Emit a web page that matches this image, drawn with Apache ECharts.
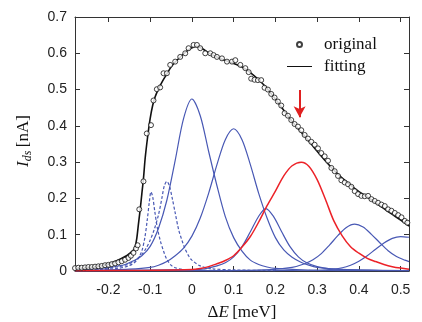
<!DOCTYPE html>
<html>
<head>
<meta charset="utf-8">
<script src="https://cdn.jsdelivr.net/npm/echarts@6/dist/echarts.min.js"></script>
<style>
html,body{margin:0;padding:0;background:#fff;}
#chart{width:422px;height:322px;}
</style>
</head>
<body>
<div id="chart"></div>
<script>
// ---- data ----
const xTicks = [-0.2, -0.1, 0, 0.1, 0.2, 0.3, 0.4, 0.5];
const yTicks = [0, 0.1, 0.2, 0.3, 0.4, 0.5, 0.6, 0.7];

const original = [
  [-0.28,0.008],[-0.272,0.009],[-0.264,0.009],[-0.256,0.010],[-0.248,0.011],[-0.24,0.011],
  [-0.232,0.012],[-0.224,0.013],[-0.216,0.014],[-0.208,0.016],[-0.2,0.017],[-0.192,0.019],
  [-0.184,0.021],[-0.176,0.024],[-0.168,0.027],[-0.16,0.031],[-0.152,0.036],[-0.146,0.042],
  [-0.14,0.050],[-0.134,0.062],[-0.13,0.071],[-0.126,0.170],[-0.116,0.247],[-0.108,0.379],
  [-0.098,0.402],[-0.092,0.470],[-0.084,0.501],[-0.076,0.506],[-0.068,0.545],[-0.06,0.545],
  [-0.052,0.568],[-0.04,0.577],[-0.028,0.590],[-0.016,0.600],[-0.008,0.614],[0.004,0.623],
  [0.012,0.623],[0.020,0.614],[0.032,0.600],[0.044,0.600],[0.052,0.595],[0.060,0.590],
  [0.072,0.586],[0.084,0.577],[0.096,0.577],[0.104,0.581],[0.116,0.568],[0.128,0.559],
  [0.136,0.548],[0.142,0.530],[0.150,0.527],[0.158,0.526],[0.166,0.526],[0.174,0.505],
  [0.182,0.500],[0.190,0.488],[0.198,0.478],[0.206,0.467],[0.214,0.456],[0.222,0.435],
  [0.230,0.428],[0.238,0.416],[0.246,0.405],[0.254,0.398],[0.262,0.388],[0.270,0.375],
  [0.278,0.365],[0.286,0.356],[0.294,0.348],[0.302,0.338],[0.310,0.325],[0.318,0.316],
  [0.326,0.304],[0.334,0.284],[0.342,0.275],[0.350,0.262],[0.358,0.250],[0.366,0.244],
  [0.374,0.239],[0.382,0.232],[0.390,0.220],[0.398,0.212],[0.406,0.207],[0.414,0.206],
  [0.422,0.207],[0.430,0.198],[0.438,0.193],[0.446,0.188],[0.454,0.183],[0.462,0.179],
  [0.470,0.170],[0.478,0.166],[0.486,0.160],[0.494,0.154],[0.502,0.148],[0.510,0.138],
  [0.516,0.133]
];

const fitting = [
  [-0.28,0.006],[-0.24,0.010],[-0.2,0.019],[-0.18,0.028],[-0.16,0.040],[-0.15,0.048],
  [-0.14,0.058],[-0.136,0.067],[-0.132,0.090],[-0.128,0.130],[-0.124,0.168],[-0.12,0.212],
  [-0.116,0.255],[-0.112,0.310],[-0.106,0.370],[-0.1,0.420],[-0.094,0.456],[-0.088,0.480],
  [-0.08,0.502],[-0.07,0.524],[-0.06,0.543],[-0.05,0.562],[-0.04,0.576],[-0.03,0.587],
  [-0.02,0.598],[-0.01,0.608],[0,0.615],[0.01,0.619],[0.02,0.616],[0.03,0.609],[0.04,0.601],
  [0.06,0.590],[0.08,0.580],[0.1,0.572],[0.12,0.562],[0.14,0.547],[0.16,0.527],[0.18,0.503],
  [0.2,0.474],[0.22,0.443],[0.24,0.412],[0.26,0.385],[0.28,0.358],[0.3,0.330],[0.32,0.303],
  [0.34,0.278],[0.36,0.256],[0.38,0.237],[0.4,0.219],[0.42,0.204],[0.44,0.188],[0.46,0.172],
  [0.48,0.156],[0.5,0.140],[0.52,0.124]
];

// dashed components
const peakA = [
  [-0.28,0.002],[-0.22,0.004],[-0.18,0.007],[-0.16,0.011],[-0.15,0.015],[-0.14,0.021],
  [-0.13,0.032],[-0.12,0.055],[-0.113,0.090],[-0.107,0.140],[-0.102,0.190],[-0.098,0.218],
  [-0.094,0.205],[-0.089,0.165],[-0.083,0.120],[-0.076,0.085],[-0.068,0.055],[-0.06,0.032],
  [-0.05,0.016],[-0.04,0.009],[-0.02,0.004],[0.02,0.002],[0.1,0.001]
];
const peakB = [
  [-0.28,0.003],[-0.22,0.006],[-0.18,0.011],[-0.16,0.016],[-0.14,0.026],[-0.12,0.045],
  [-0.11,0.062],[-0.1,0.085],[-0.09,0.115],[-0.08,0.155],[-0.072,0.200],[-0.066,0.235],
  [-0.06,0.247],[-0.054,0.235],[-0.047,0.200],[-0.04,0.160],[-0.032,0.115],[-0.024,0.085],
  [-0.016,0.060],[-0.008,0.042],[0,0.030],[0.02,0.014],[0.05,0.006],[0.1,0.003],[0.2,0.001]
];
// solid blue components
const peakC = [
  [-0.28,0.004],[-0.24,0.006],[-0.2,0.009],[-0.18,0.013],[-0.16,0.018],[-0.14,0.028],
  [-0.12,0.042],[-0.1,0.068],[-0.08,0.118],[-0.06,0.195],[-0.04,0.305],[-0.02,0.420],
  [0,0.474],[0.02,0.428],[0.04,0.330],[0.06,0.235],[0.08,0.150],[0.1,0.092],[0.12,0.055],
  [0.14,0.030],[0.16,0.018],[0.18,0.011],[0.2,0.007],[0.25,0.004],[0.3,0.002],[0.4,0.001],[0.52,0.001]
];
const peakD = [
  [-0.28,0.001],[-0.2,0.003],[-0.15,0.005],[-0.1,0.010],[-0.08,0.016],[-0.06,0.026],
  [-0.04,0.042],[-0.02,0.063],[0,0.096],[0.02,0.146],[0.04,0.214],[0.06,0.293],[0.08,0.362],
  [0.1,0.392],[0.12,0.362],[0.14,0.293],[0.16,0.214],[0.18,0.146],[0.2,0.092],[0.22,0.058],
  [0.24,0.038],[0.26,0.025],[0.28,0.016],[0.3,0.010],[0.35,0.005],[0.4,0.003],[0.52,0.001]
];
const peakE = [
  [-0.28,0.001],[0,0.004],[0.03,0.006],[0.06,0.014],[0.08,0.0225],[0.1,0.039],[0.12,0.067],
  [0.14,0.108],[0.16,0.151],[0.177,0.172],[0.195,0.151],[0.215,0.108],[0.235,0.067],
  [0.255,0.039],[0.275,0.0225],[0.3,0.012],[0.33,0.006],[0.38,0.003],[0.48,0.001],[0.52,0.001]
];
const peakG = [
  [-0.28,0.001],[0.09,0.001],[0.19,0.004],[0.24,0.010],[0.27,0.020],[0.29,0.031],[0.31,0.048],
  [0.33,0.072],[0.35,0.098],[0.37,0.120],[0.39,0.129],[0.41,0.121],[0.43,0.101],[0.45,0.078],
  [0.47,0.056],[0.49,0.040],[0.51,0.030],[0.52,0.026]
];
const peakH = [
  [-0.28,0.0005],[0.2,0.001],[0.28,0.002],[0.33,0.004],[0.36,0.009],[0.38,0.016],[0.4,0.027],
  [0.42,0.042],[0.44,0.060],[0.46,0.077],[0.48,0.090],[0.5,0.095],[0.52,0.093]
];
// red component
const peakRed = [
  [-0.28,0.001],[-0.1,0.002],[0,0.004],[0.02,0.007],[0.04,0.012],[0.06,0.020],[0.08,0.029],
  [0.1,0.042],[0.12,0.066],[0.14,0.095],[0.16,0.135],[0.18,0.180],[0.2,0.220],[0.22,0.262],
  [0.24,0.290],[0.262,0.300],[0.28,0.289],[0.3,0.252],[0.32,0.197],[0.34,0.138],[0.36,0.097],
  [0.38,0.067],[0.4,0.049],[0.42,0.035],[0.44,0.026],[0.46,0.018],[0.48,0.012],[0.5,0.008],[0.52,0.005]
];
// red arrow (data coordinates)
const arrowX = 0.258, arrowTop = 0.499, arrowTip = 0.424;

// ---- chart ----
const BLUE = '#4858b4', RED = '#ec2228', BLACK = '#111';
const SERIF = '"Liberation Serif", "DejaVu Serif", serif';
const SANS = '"Liberation Sans", Arial, sans-serif';
const chart = echarts.init(document.getElementById('chart'), null, {renderer: 'canvas'});

function blue(name, data, dashed) {
  return {
    name, type: 'line', data, symbol: 'none', smooth: 0.3, silent: true,
    lineStyle: {color: BLUE, width: 1.2, type: dashed ? [3, 2] : 'solid'},
    itemStyle: {color: BLUE}, z: 2
  };
}

const xFmt = v => (Math.abs(v) < 1e-9 ? '0' : String(+v.toFixed(1)));
const yFmt = v => (Math.abs(v) < 1e-9 ? '0' : v.toFixed(1));

chart.setOption({
  animation: false,
  grid: {left: 75, top: 17, right: 13, bottom: 51, outerBoundsMode: 'none', containLabel: false},
  legend: {
    orient: 'vertical', left: 282, top: 31, itemWidth: 25, itemHeight: 5, itemGap: 5,
    textStyle: {fontFamily: SERIF, fontSize: 17, color: '#111', padding: [0, 0, 0, 7]},
    data: [
      {name: 'original'},
      {name: 'fitting', icon: 'path://M0,0H50V2H0Z', itemStyle: {color: BLACK}}
    ]
  },
  xAxis: [{
    type: 'value', min: -0.28, max: 0.52, position: 'bottom',
    axisLine: {onZero: false, lineStyle: {color: '#333', width: 1}},
    axisTick: {inside: true, length: 5, customValues: xTicks, lineStyle: {color: '#333'}},
    axisLabel: {customValues: xTicks, formatter: xFmt, fontFamily: SANS, fontSize: 14, color: '#222', margin: 12},
    splitLine: {show: false},
    name: '{d|Δ}{e|E} {n|[meV]}', nameLocation: 'middle', nameGap: 33,
    nameTextStyle: {
      rich: {
        d: {fontFamily: SERIF, fontSize: 17, color: '#111'},
        e: {fontFamily: SERIF, fontSize: 17, fontStyle: 'italic', color: '#111'},
        n: {fontFamily: SERIF, fontSize: 17, color: '#111'}
      }
    }
  }, {
    type: 'value', min: -0.28, max: 0.52, position: 'top',
    axisLine: {onZero: false, lineStyle: {color: '#333', width: 1}},
    axisTick: {inside: true, length: 5, customValues: xTicks, lineStyle: {color: '#333'}},
    axisLabel: {show: false}, splitLine: {show: false}
  }],
  yAxis: [{
    type: 'value', min: 0, max: 0.7, interval: 0.1, position: 'left',
    axisLine: {show: true, onZero: false, lineStyle: {color: '#333', width: 1}},
    axisTick: {show: true, inside: true, length: 5, lineStyle: {color: '#333'}},
    axisLabel: {formatter: yFmt, fontFamily: SANS, fontSize: 14, color: '#222', margin: 8},
    splitLine: {show: false},
    name: '{i|I}{s|ds} {n|[nA]}', nameLocation: 'middle', nameGap: 41, nameRotate: 90,
    nameTextStyle: {
      padding: [0, 0, 0, 6],
      rich: {
        i: {fontFamily: SERIF, fontSize: 17, fontStyle: 'italic', color: '#111', lineHeight: 20},
        s: {fontFamily: SERIF, fontSize: 12, fontStyle: 'italic', color: '#111', verticalAlign: 'bottom', lineHeight: 12},
        n: {fontFamily: SERIF, fontSize: 17, color: '#111', lineHeight: 20}
      }
    }
  }, {
    type: 'value', min: 0, max: 0.7, interval: 0.1, position: 'right',
    axisLine: {show: true, onZero: false, lineStyle: {color: '#333', width: 1}},
    axisTick: {show: true, inside: true, length: 5, lineStyle: {color: '#333'}},
    axisLabel: {show: false}, splitLine: {show: false}
  }],
  series: [
    blue('A', peakA, true),
    blue('B', peakB, true),
    blue('C', peakC, false),
    blue('D', peakD, false),
    blue('E', peakE, false),
    blue('G', peakG, false),
    blue('H', peakH, false),
    {
      name: 'red', type: 'line', data: peakRed, symbol: 'none', smooth: 0.3, silent: true,
      lineStyle: {color: RED, width: 1.5}, itemStyle: {color: RED}, z: 3,
      markLine: {
        silent: true, symbol: ['none', 'arrow'], symbolSize: [9, 11],
        lineStyle: {color: '#e02020', width: 2, type: 'solid'}, label: {show: false},
        data: [[{coord: [arrowX, arrowTop]}, {coord: [arrowX, arrowTip]}]]
      }
    },
    {
      name: 'fitting', type: 'line', data: fitting, symbol: 'none', smooth: 0.3, silent: true,
      lineStyle: {color: BLACK, width: 1.6}, itemStyle: {color: BLACK}, z: 4
    },
    {
      name: 'original', type: 'scatter', data: original, symbol: 'circle', symbolSize: 5, silent: true,
      itemStyle: {color: '#fff', borderColor: '#111', borderWidth: 1}, z: 5
    }
  ]
});
</script>
</body>
</html>
